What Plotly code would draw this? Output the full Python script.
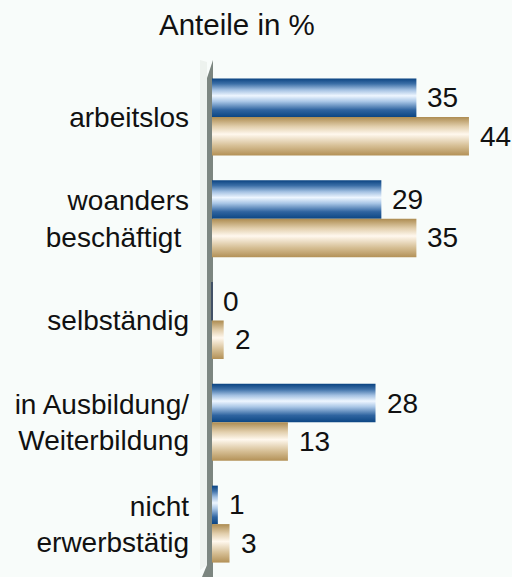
import plotly.graph_objects as go

categories = ["arbeitslos", "woanders<br>beschäftigt\u00a0", "selbständig",
              "in Ausbildung/<br>Weiterbildung", "nicht<br>erwerbstätig"]
blue_values = [35, 29, 0, 28, 1]
gold_values = [44, 35, 2, 13, 3]
title_text = "Anteile in %"

W, H = 512, 577
ML, MR, MT, MB = 200, 0, 66, 2
PW, PH = W - ML - MR, H - MT - MB
BG = "#F8FCFA"
FONT = "Liberation Sans, Arial, sans-serif"
bar_h = 0.378

blue_scale = [[0, "#0C4683"], [0.18, "#2F64A0"], [0.4, "#A9C6E6"], [0.55, "#EEF6FF"],
              [0.7, "#A4C1E2"], [0.86, "#3C6FA7"], [1, "#0A4381"]]
gold_scale = [[0, "#B39157"], [0.25, "#D6BF95"], [0.55, "#FFF8EE"], [0.75, "#E2CFAD"],
              [1, "#AC8B50"]]

fig = go.Figure()


def add_bar(v, y_top, y_bot, scale, edge):
    fig.add_trace(go.Scatter(
        x=[0, v, v, 0, 0], y=[y_top, y_top, y_bot, y_bot, y_top],
        mode="lines", fill="toself",
        fillgradient=dict(type="vertical", colorscale=scale),
        line=dict(width=1.2 if v == 0 else 0, color=edge),
        hoverinfo="skip", showlegend=False))


annotations = []
for i, (b, g) in enumerate(zip(blue_values, gold_values)):
    add_bar(b, i - bar_h, i, blue_scale, "#1B2F55")
    add_bar(g, i, i + bar_h, gold_scale, "#8A6E3A")
    for v, yc in ((b, i - bar_h / 2), (g, i + bar_h / 2)):
        annotations.append(dict(x=v, y=yc, xref="x", yref="y", text=str(v),
                                showarrow=False, xanchor="left", yanchor="middle",
                                xshift=9, font=dict(size=28, color="#111111", family=FONT)))


def px(xp):
    return (xp - ML) / PW


def py(yp):
    return (MT + PH - yp) / PH


annotations.append(dict(x=px(236.5), y=py(24.8), xref="paper", yref="paper",
                        text=title_text, showarrow=False, xanchor="center", yanchor="middle",
                        font=dict(size=29.5, color="#111111", family=FONT)))

light_face = "M {},{} L {},{} L {},{} L {},{} Z".format(
    px(200), py(60), px(207), py(62), px(207), py(565), px(200), py(570))
front_face = "M {},{} L {},{} L {},{} L {},{} L {},{} Z".format(
    px(213), py(60), px(213), py(577), px(202), py(577), px(207), py(565), px(207), py(78))

shapes = [
    dict(type="path", path=light_face, xref="paper", yref="paper",
         fillcolor="#EDF2EE", line=dict(width=0), layer="below"),
    dict(type="path", path=front_face, xref="paper", yref="paper",
         fillcolor="#7C8680", line=dict(width=0), layer="below"),
]

fig.update_layout(
    width=W, height=H,
    margin=dict(l=ML, r=MR, t=MT, b=MB, autoexpand=False),
    paper_bgcolor=BG, plot_bgcolor=BG,
    showlegend=False,
    xaxis=dict(range=[-12 / 5.84, (PW - 12) / 5.84], visible=False, fixedrange=True),
    yaxis=dict(range=[len(categories) - 0.5, -0.5], tickvals=list(range(len(categories))),
               ticktext=categories, ticks="", showgrid=False, zeroline=False, showline=False,
               ticklabelstandoff=10, fixedrange=True, automargin=False,
               tickfont=dict(size=28, color="#111111", family=FONT)),
    annotations=annotations,
    shapes=shapes,
)

fig.write_html("out.html", config={"displayModeBar": False},
               post_script="document.body.style.margin='0';document.body.style.overflow='hidden';")
